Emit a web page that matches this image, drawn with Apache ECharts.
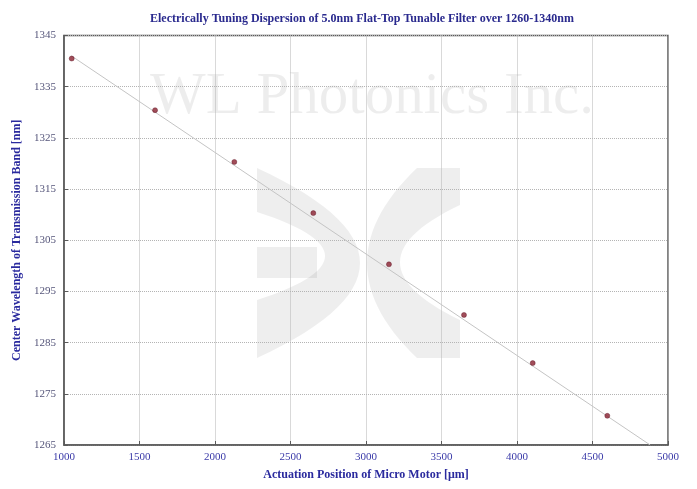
<!DOCTYPE html>
<html>
<head>
<meta charset="utf-8">
<script src="https://cdn.jsdelivr.net/npm/echarts@6/dist/echarts.min.js"></script>
<style>html,body{margin:0;padding:0;background:#fff}#c{width:697px;height:489px}</style>
</head>
<body>
<div id="c"></div>
<script>
var titleText = 'Electrically Tuning Dispersion of 5.0nm Flat-Top Tunable Filter over 1260-1340nm';
var xName = 'Actuation Position of Micro Motor [\u03bcm]';
var yName = 'Center Wavelength of Transmission Band [nm]';
var positions = [1051, 1603, 2128, 2651, 3152, 3649, 4104, 4598];
var wavelengths = [1340.5, 1330.4, 1320.3, 1310.3, 1300.3, 1290.4, 1281.0, 1270.7];
var fitX = [1050, 4882];
var fitY = [1341.0, 1265.0];
var xTicks = [1000, 1500, 2000, 2500, 3000, 3500, 4000, 4500, 5000];
var yTicks = [1265, 1275, 1285, 1295, 1305, 1315, 1325, 1335, 1345];

var pts = positions.map(function (x, i) { return [x, wavelengths[i]]; });
var fit = fitX.map(function (x, i) { return [x, fitY[i]]; });

// watermark logo outline helpers (decoration only)
function quad(p0, c, p1, n) {
  var out = [];
  for (var i = 0; i <= n; i++) {
    var t = i / n, a = (1 - t) * (1 - t), b = 2 * (1 - t) * t, d = t * t;
    out.push([a * p0[0] + b * c[0] + d * p1[0], a * p0[1] + b * c[1] + d * p1[1]]);
  }
  return out;
}
var leftShape = quad([257, 168], [463, 263], [257, 358], 30)
  .concat(quad([257, 300], [393, 256], [257, 212], 30));
var rightShape = [[460, 168]]
  .concat(quad([417, 168], [317, 263], [417, 358], 30))
  .concat([[460, 358]])
  .concat(quad([460, 320], [340, 262], [460, 205], 30));

var chart = echarts.init(document.getElementById('c'), null, {renderer: 'canvas'});
var serif = '"Liberation Serif", "DejaVu Serif", serif';
var wmColor = 'rgba(0,0,0,0.065)';
chart.setOption({
  animation: false,
  backgroundColor: '#ffffff',
  title: {
    text: titleText,
    left: 357, top: 8, textAlign: 'center',
    textStyle: {fontFamily: serif, fontSize: 12, fontWeight: 'bold', color: '#2a2a8e'}
  },
  graphic: {
    elements: [
      {type: 'polygon', silent: true, shape: {points: leftShape}, style: {fill: wmColor}},
      {type: 'rect', silent: true, shape: {x: 257, y: 247, width: 60, height: 31}, style: {fill: wmColor}},
      {type: 'polygon', silent: true, shape: {points: rightShape}, style: {fill: wmColor}},
      {type: 'text', silent: true, x: 150, y: 127,
       style: {text: 'WL Photonics Inc.', font: '59px "Liberation Serif", serif', fill: 'rgba(0,0,0,0.07)', textVerticalAlign: 'bottom', verticalAlign: 'alphabetic'}}
    ]
  },
  grid: {left: 64, right: 29, top: 35.5, bottom: 44, containLabel: false,
         show: true, borderColor: '#5a5a5a', borderWidth: 1.5, backgroundColor: 'transparent'},
  xAxis: {
    type: 'value', min: 1000, max: 5000, interval: 500,
    name: xName, nameLocation: 'middle', nameGap: 24,
    nameTextStyle: {fontFamily: serif, fontSize: 12, fontWeight: 'bold', color: '#2a2a9e'},
    axisLine: {show: true, lineStyle: {color: '#5a5a5a', width: 1.5}},
    axisTick: {show: true, inside: true, length: 4, lineStyle: {color: '#5a5a5a'}},
    axisLabel: {fontFamily: serif, fontSize: 11, color: '#3a3aa8', margin: 7,
      formatter: function (v) { return xTicks.indexOf(v) >= 0 ? String(v) : ''; }},
    splitLine: {show: true, lineStyle: {color: '#b4b4b4', type: 'dotted', width: 1}}
  },
  yAxis: {
    type: 'value', min: 1265, max: 1345, interval: 10,
    name: yName, nameLocation: 'middle', nameGap: 36,
    nameTextStyle: {fontFamily: serif, fontSize: 12, fontWeight: 'bold', color: '#2a2a9e'},
    axisLine: {show: true, lineStyle: {color: '#5a5a5a', width: 1.5}},
    axisTick: {show: true, inside: true, length: 4, lineStyle: {color: '#5a5a5a'}},
    axisLabel: {fontFamily: serif, fontSize: 11, color: '#55557a', margin: 8,
      formatter: function (v) { return yTicks.indexOf(v) >= 0 ? String(v) : ''; }},
    splitLine: {show: true, lineStyle: {color: '#b4b4b4', type: 'dotted', width: 1}}
  },
  series: [
    {type: 'line', data: fit, showSymbol: false, symbol: 'none', z: 2,
     lineStyle: {color: '#c4c4c4', width: 1}},
    {type: 'scatter', data: pts, symbol: 'circle', symbolSize: 5, z: 3,
     itemStyle: {color: '#8a2030', borderColor: '#5a1020', borderWidth: 0.5}}
  ]
});
</script>
</body>
</html>
